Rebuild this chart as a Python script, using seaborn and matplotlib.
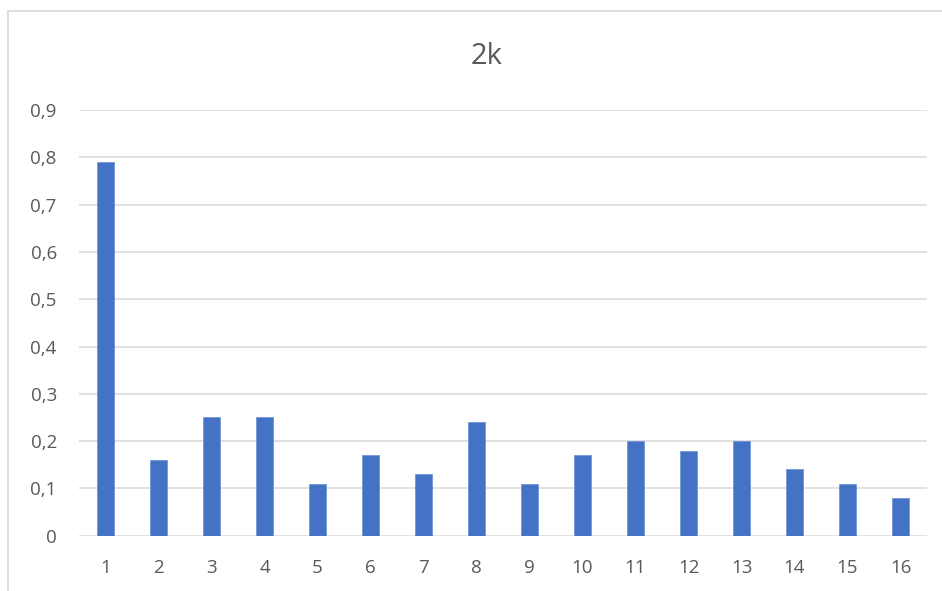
import matplotlib
matplotlib.use("Agg")
import matplotlib.pyplot as plt
import matplotlib.patches as mpatches
import numpy as np
import pandas as pd
import seaborn as sns

# data
categories = [str(i) for i in range(1, 17)]
values = [0.79, 0.16, 0.25, 0.25, 0.11, 0.17, 0.13, 0.24,
          0.11, 0.17, 0.20, 0.18, 0.20, 0.14, 0.11, 0.08]
y_ticks = [0, 0.1, 0.2, 0.3, 0.4, 0.5, 0.6, 0.7, 0.8, 0.9]
y_labels = ["0", "0,1", "0,2", "0,3", "0,4", "0,5", "0,6", "0,7", "0,8", "0,9"]
title = "2k"

df = pd.DataFrame({"cat": categories, "val": values})

sns.set_theme(style="whitegrid")
plt.rcParams["font.family"] = ["Open Sans", "DejaVu Sans"]

fig = plt.figure(figsize=(9.42, 5.91), dpi=100)
ax = fig.add_axes([79 / 942, 1 - 535.7 / 591, (927 - 79) / 942, (535.7 - 110) / 591])

sns.barplot(data=df, x="cat", y="val", color="#4472C4", width=0.32,
            saturation=1, edgecolor="#6a8fd3", linewidth=0.5, ax=ax)

ax.set_ylim(0, 0.9)
ax.set_yticks(y_ticks)
ax.set_yticklabels(y_labels)
ax.set_xlim(-0.5, len(categories) - 0.5)
ax.set_xlabel("")
ax.set_ylabel("")

ax.set_facecolor("white")
for s in ax.spines.values():
    s.set_visible(False)
ax.grid(axis="y", color="#d9d9d9", linewidth=1.1)
ax.grid(axis="x", visible=False)
ax.set_axisbelow(True)
ax.tick_params(axis="both", length=0, labelsize=13.5, labelcolor="#595959")
ax.tick_params(axis="y", pad=16)
ax.tick_params(axis="x", pad=17)

fig.text(487 / 942, 1 - 57 / 591, title, ha="center", va="center",
         fontsize=21, color="#595959")

# chart area border
fig.patches.append(mpatches.Rectangle((8 / 942, -0.1), 1.2, 1 - 11 / 591 + 0.1,
                                      transform=fig.transFigure, fill=False,
                                      edgecolor="#d9d9d9", linewidth=1.2))

fig.savefig("out.png", dpi=100, facecolor="white")
